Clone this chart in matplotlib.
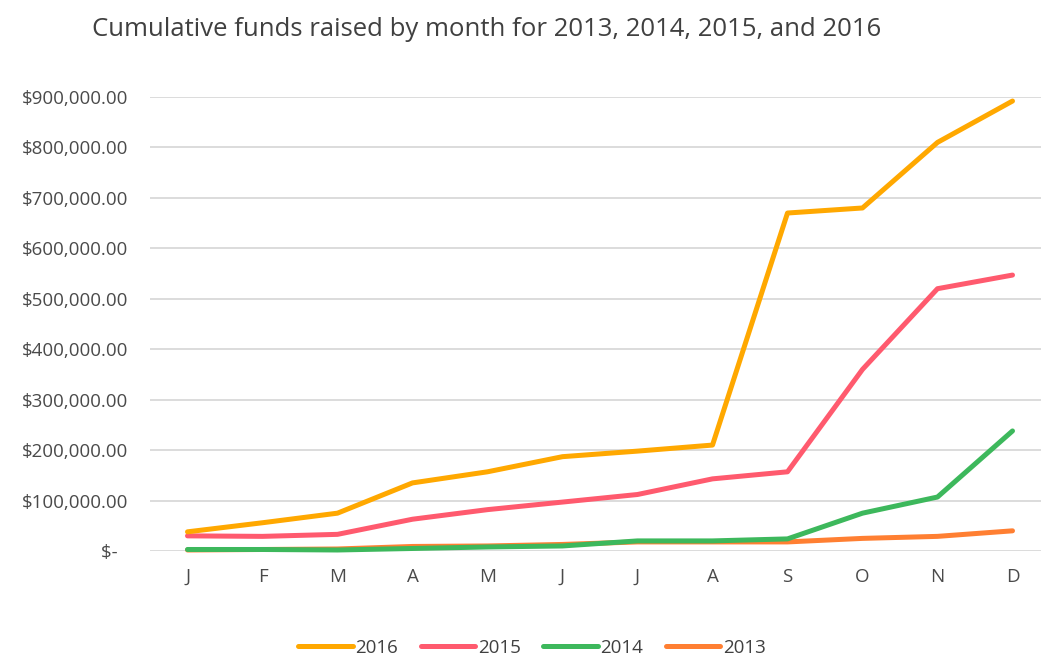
import numpy as np
import matplotlib.pyplot as plt

plt.rcParams['font.family'] = ['Open Sans', 'DejaVu Sans']

months = ['J', 'F', 'M', 'A', 'M', 'J', 'J', 'A', 'S', 'O', 'N', 'D']
funds_2016 = [38000, 56000, 75000, 135000, 157000, 187000, 198000, 210000, 670000, 680000, 810000, 892000]
funds_2015 = [30000, 29000, 33000, 63000, 82000, 97000, 112000, 143000, 157000, 360000, 520000, 547000]
funds_2014 = [3000, 3000, 2000, 5000, 8000, 10000, 20000, 20000, 24000, 75000, 107000, 238000]
funds_2013 = [2000, 3000, 4000, 9000, 10000, 13000, 18000, 18000, 18000, 25000, 29000, 40000]
y_ticks = [0, 100000, 200000, 300000, 400000, 500000, 600000, 700000, 800000, 900000]

series = [('2016', funds_2016, '#FFA800'),
          ('2015', funds_2015, '#FF5A6E'),
          ('2014', funds_2014, '#3DB85C'),
          ('2013', funds_2013, '#FF7F32')]

fig = plt.figure(figsize=(10.41, 6.62), dpi=100)
ax = fig.add_axes([150 / 1041, 1 - 551 / 662, 1 - 150 / 1041, (551 - 97) / 662])

x = np.arange(len(months))
for name, vals, col in reversed(series):
    ax.plot(x, vals, color=col, lw=3.6, label=name, clip_on=False,
            solid_capstyle='round', solid_joinstyle='round')

ax.set_xlim(-0.5, (1041 - 150) / 75 - 0.5)
ax.set_ylim(0, 900000)
ax.set_xticks(x)
ax.set_xticklabels(months)
ax.set_yticks(y_ticks)
ax.set_yticklabels(['$-  '] + [f'${v:,.2f}' for v in y_ticks[1:]])
ax.tick_params(length=0, labelsize=13.5, colors='#4A4A4A')
ax.tick_params(axis='y', pad=16)
ax.tick_params(axis='x', pad=12)
ax.grid(axis='y', color='#D9D9D9', lw=1.3)
ax.set_axisbelow(True)
for s in ax.spines.values():
    s.set_visible(False)

fig.text(92 / 1041, 1 - 30 / 662, 'Cumulative funds raised by month for 2013, 2014, 2015, and 2016',
         fontsize=18.5, color='#404040', va='center', ha='left')

handles, labels = ax.get_legend_handles_labels()
fig.legend(handles[::-1], labels[::-1], loc='center', bbox_to_anchor=(532 / 1041, 1 - 648 / 662),
           ncol=4, frameon=False, fontsize=13.5, handlelength=2.9, handletextpad=0.15,
           columnspacing=1.2, labelcolor='#404040')

fig.savefig('out.png', dpi=100)
